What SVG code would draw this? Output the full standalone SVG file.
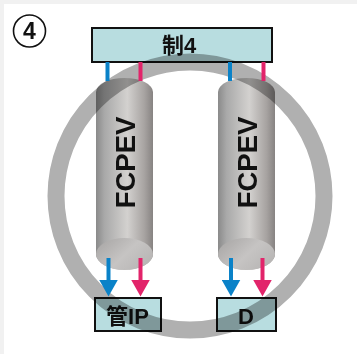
<svg xmlns="http://www.w3.org/2000/svg" width="357" height="354" viewBox="0 0 357 354">
  <defs>
    <style>
      .box { fill: #b8dde0; stroke: #111; stroke-width: 2; }
      .lbl { font-family: "Liberation Sans", "Noto Sans CJK JP", Arial, sans-serif; font-weight: bold; fill: #111; text-anchor: middle; }
      .cyl-body { fill: url(#cylShade); }
      .cyl-cap { fill: url(#capShade); }
      .blue { stroke: #0a82c8; stroke-width: 4; fill: none; }
      .red { stroke: #e2246a; stroke-width: 4; fill: none; }
      .ring { fill: none; stroke: #b0b0b0; stroke-width: 17; mix-blend-mode: multiply; }
    </style>
    <linearGradient id="cylShade" x1="0" y1="0" x2="1" y2="0">
      <stop offset="0" stop-color="#8a8a8a"/>
      <stop offset="0.15" stop-color="#a9a9a9"/>
      <stop offset="0.55" stop-color="#d3d1cf"/>
      <stop offset="0.85" stop-color="#a7a3a1"/>
      <stop offset="1" stop-color="#878382"/>
    </linearGradient>
    <linearGradient id="capShade" x1="0" y1="0" x2="1" y2="0.6">
      <stop offset="0" stop-color="#a5a3a2"/>
      <stop offset="0.6" stop-color="#c6c4c3"/>
      <stop offset="1" stop-color="#b9b7b6"/>
    </linearGradient>
    <marker id="headBlue" viewBox="0 0 17 19" refX="0.5" refY="9.5" markerWidth="17" markerHeight="19" markerUnits="userSpaceOnUse" orient="auto">
      <path d="M0,0 L17,9.5 L0,19 z" fill="#0a82c8"/>
    </marker>
    <marker id="headRed" viewBox="0 0 17 19" refX="0.5" refY="9.5" markerWidth="17" markerHeight="19" markerUnits="userSpaceOnUse" orient="auto">
      <path d="M0,0 L17,9.5 L0,19 z" fill="#e2246a"/>
    </marker>
  </defs>

  <!-- page background with thin frame strips -->
  <rect x="0" y="0" width="357" height="354" fill="#ffffff"/>
  <rect x="0" y="0" width="357" height="4" fill="#f1f1f1"/>
  <rect x="0" y="0" width="4" height="354" fill="#f1f1f1"/>

  <!-- panel number -->
  <g id="panel-number">
    <circle cx="29.5" cy="31" r="16" fill="none" stroke="#111" stroke-width="1.6"/>
    <text class="lbl" x="29.5" y="39" font-size="23">4</text>
  </g>

  <g id="node-control">
    <rect class="box" x="92" y="28" width="180" height="34"/>
    <text class="lbl" x="179" y="53" font-size="22">制4</text>
  </g>

  <g id="node-valve-left">
    <path class="cyl-body" d="M96,92 A28.5,14 0 0 1 153,92 L153,254 A28.5,16 0 0 1 96,254 Z"/>
    <ellipse class="cyl-cap" cx="124.5" cy="254" rx="28.5" ry="16"/>
    <text class="lbl" transform="translate(135,162.5) rotate(-90)" x="0" y="0" font-size="27.5">FCPEV</text>
  </g>

  <g id="node-valve-right">
    <path class="cyl-body" d="M218,92 A28.5,14 0 0 1 275,92 L275,254 A28.5,16 0 0 1 218,254 Z"/>
    <ellipse class="cyl-cap" cx="246.5" cy="254" rx="28.5" ry="16"/>
    <text class="lbl" transform="translate(257,162.5) rotate(-90)" x="0" y="0" font-size="27.5">FCPEV</text>
  </g>

  <g id="node-pipe">
    <rect class="box" x="95" y="298" width="66" height="33"/>
    <text class="lbl" x="127.5" y="324" font-size="22">管IP</text>
  </g>

  <g id="node-d">
    <rect class="box" x="217" y="298" width="59" height="33"/>
    <text class="lbl" x="246" y="324" font-size="22">D</text>
  </g>

  <!-- translucent ring laid over the valves and boxes -->
  <g id="ring">
    <circle class="ring" cx="190" cy="196" r="134"/>
  </g>

  <g id="connectors">
    <line class="blue" x1="107.5" y1="62" x2="107.5" y2="81"/>
    <line class="red" x1="140.5" y1="62" x2="140.5" y2="81"/>
    <line class="blue" x1="230" y1="62" x2="230" y2="81"/>
    <line class="red" x1="263.5" y1="62" x2="263.5" y2="81"/>
    <line class="blue" x1="108.5" y1="258" x2="108.5" y2="280" marker-end="url(#headBlue)"/>
    <line class="red" x1="140.5" y1="258" x2="140.5" y2="280" marker-end="url(#headRed)"/>
    <line class="blue" x1="231" y1="258" x2="231" y2="280" marker-end="url(#headBlue)"/>
    <line class="red" x1="262.5" y1="258" x2="262.5" y2="280" marker-end="url(#headRed)"/>
  </g>
</svg>
